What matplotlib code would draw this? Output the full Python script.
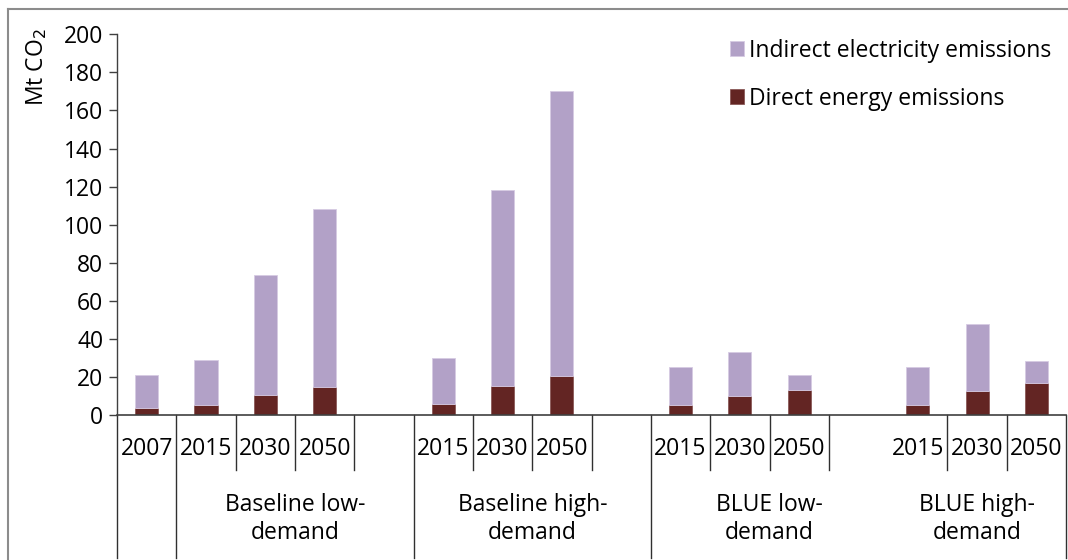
import numpy as np
import matplotlib
matplotlib.use('Agg')
import matplotlib.pyplot as plt
from matplotlib.lines import Line2D

# Slots along the x axis ('' = empty spacer slot)
years = ['2007', '2015', '2030', '2050', '', '2015', '2030', '2050', '',
         '2015', '2030', '2050', '', '2015', '2030', '2050']
direct = [3.8, 5.2, 10.4, 14.6, np.nan, 5.9, 15.3, 20.7, np.nan,
          5.2, 9.9, 13.5, np.nan, 5.2, 12.7, 16.7]
indirect = [17.4, 24.0, 63.2, 93.8, np.nan, 24.0, 103.2, 149.5, np.nan,
            20.0, 23.3, 7.7, np.nan, 20.0, 35.3, 11.8]

groups = ['', 'Baseline low-\ndemand', 'Baseline high-\ndemand',
          'BLUE low-\ndemand', 'BLUE high-\ndemand']
group_first = [0, 1, 5, 9, 13]
group_last = [0, 4, 8, 12, 15]

c_direct = '#632523'
c_indirect = '#B2A1C7'
font = ['Open Sans', 'DejaVu Sans']
fs = 16.5

plt.rcParams['font.family'] = font

fig = plt.figure(figsize=(10.68, 5.6), dpi=100)
ax = fig.add_axes([0.1096, 0.2584, 0.8886, 0.6804])

x = np.arange(len(years))
ax.bar(x, direct, width=0.39, color=c_direct, edgecolor='#8a5a58', linewidth=0.6,
       label='Direct energy emissions')
ax.bar(x, indirect, width=0.39, bottom=direct, color=c_indirect, edgecolor='#d6cbe3',
       linewidth=0.6, label='Indirect electricity emissions')

ax.set_xlim(-0.5, len(years) - 0.5)
ax.set_ylim(0, 200)
ax.set_yticks(range(0, 201, 20))
ax.tick_params(axis='y', direction='out', length=6, width=1, colors='#404040',
               labelsize=fs, labelcolor='black', pad=4)
ax.set_xticks([])
for s in ['top', 'right']:
    ax.spines[s].set_visible(False)
ax.spines['left'].set_color('#404040')
ax.spines['bottom'].set_color('#404040')
ax.spines['left'].set_linewidth(1)
ax.spines['bottom'].set_linewidth(1.2)

trans = ax.get_xaxis_transform()
axh = 0.6804 * 5.6  # axes height in inches
def yfrac(px):
    # pixels below the x axis -> axes fraction
    return -px / (axh * 100)

# year labels
for i, y in enumerate(years):
    if y:
        ax.text(i, yfrac(34), y, transform=trans, ha='center', va='center',
                fontsize=fs)

# separators between slots
long_pos = [g - 0.5 for g in group_first] + [len(years) - 0.5]
skip = [12.5]
for k in range(len(years) + 1):
    p = k - 0.5
    if p in skip:
        continue
    if p in long_pos:
        ax.plot([p, p], [0, yfrac(143)], transform=trans, color='#303030',
                lw=1, clip_on=False)
    else:
        ax.plot([p, p], [0, yfrac(55)], transform=trans, color='#303030',
                lw=1, clip_on=False)

# group labels
for g, a, b in zip(groups, group_first, group_last):
    if g:
        ax.text((a + b) / 2, yfrac(104), g, transform=trans, ha='center',
                va='center', fontsize=fs, linespacing=1.2)

# y label
fig.text(0.034, 0.95, 'Mt CO$_2$', rotation=90, ha='center', va='top',
         fontsize=fs)

# legend
h, l = ax.get_legend_handles_labels()
fig.legend(h[::-1], l[::-1], loc='upper left', bbox_to_anchor=(0.664, 0.968),
           frameon=False, fontsize=fs, handlelength=0.6, handleheight=0.6,
           handletextpad=0.25, labelspacing=1.05)

# outer chart frame (left and top edges)
fig.add_artist(Line2D([8 / 1068, 8 / 1068], [0, 1 - 9 / 560],
                      color='#8c8c8c', lw=1.5))
fig.add_artist(Line2D([8 / 1068, 1], [1 - 9 / 560, 1 - 9 / 560],
                      color='#8c8c8c', lw=1.5))

fig.savefig('out.png', dpi=100)
